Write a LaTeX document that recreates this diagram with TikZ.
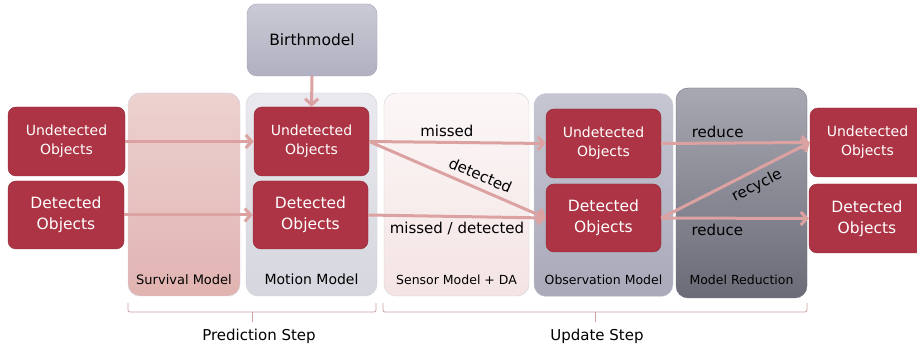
\documentclass[tikz,border=0pt]{standalone}
\usepackage{fontspec}
\setmainfont{DejaVu Sans}
\usetikzlibrary{arrows.meta}

\definecolor{objred}{HTML}{AD3444}
\definecolor{objline}{HTML}{8E2A37}
\definecolor{flowpink}{HTML}{DCA2A2}
\definecolor{bracepink}{HTML}{CFA0A4}
\definecolor{panelline}{HTML}{CFCFD8}

\newcommand\smallobj{\fontsize{14}{19}\selectfont}
\newcommand\bigobj{\fontsize{15.5}{21}\selectfont}
\newcommand\panelfont{\fontsize{12.5}{15}\selectfont}

\tikzset{
  objbox/.style={draw=objline, fill=objred, rounded corners=8pt, text=white,
    align=center, inner sep=0pt, minimum width=115pt, minimum height=68pt},
  panel/.style={draw=panelline, rounded corners=12pt, inner sep=0pt,
    minimum width=#1, minimum height=203pt},
  flow/.style={draw=flowpink, line width=3pt, -{Straight Barb[length=6pt,width=13pt]}},
  flowlab/.style={font=\fontsize{15}{18}\selectfont, inner sep=4pt},
  bracket/.style={draw=bracepink, line width=0.8pt, rounded corners=2pt},
}

\begin{document}
\begin{tikzpicture}[x=1pt,y=1pt]
\useasboundingbox (0,0) rectangle (917,350);

% panels
\node[panel=112pt, top color={rgb,255:red,236;green,210;blue,208}, bottom color={rgb,255:red,225;green,179;blue,177}]
  at (184,155.5) (survival) {};
\node[panel=131pt, top color={rgb,255:red,233;green,233;blue,239}, bottom color={rgb,255:red,214;green,214;blue,222}]
  at (311.5,155.5) (motion) {};
\node[panel=145pt, top color={rgb,255:red,252;green,247;blue,247}, bottom color={rgb,255:red,244;green,228;blue,228}]
  at (456.5,155.5) (sensor) {};
\node[panel=139pt, top color={rgb,255:red,198;green,198;blue,210}, bottom color={rgb,255:red,169;green,169;blue,186}]
  at (603.5,155) (observation) {};
\node[panel=131pt, minimum height=210pt, draw={rgb,255:red,112;green,112;blue,128},
  top color={rgb,255:red,168;green,168;blue,178}, bottom color={rgb,255:red,107;green,107;blue,120}]
  at (741.5,157) (reduction) {};

\node[font=\fontsize{13}{15}\selectfont, anchor=base] at ([yshift=12pt]survival.south) {Survival Model};
\node[font=\fontsize{14}{16}\selectfont, anchor=base] at ([yshift=12pt]motion.south) {Motion Model};
\node[font=\panelfont, anchor=base] at ([yshift=12pt]sensor.south) {Sensor Model + DA};
\node[font=\panelfont, anchor=base] at ([yshift=12pt]observation.south) {Observation Model};
\node[font=\panelfont, anchor=base] at ([yshift=14pt]reduction.south) {Model Reduction};

\node[panel=130pt, minimum height=72pt, rounded corners=10pt, draw={rgb,255:red,160;green,160;blue,176},
  top color={rgb,255:red,202;green,202;blue,214}, bottom color={rgb,255:red,176;green,176;blue,192},
  font=\fontsize{15.5}{18}\selectfont] at (312,310) (birth) {Birthmodel};

% object boxes
\node[objbox, minimum width=117pt, minimum height=69pt, font=\smallobj] at (66.5,208.5) (inundet) {Undetected\\Objects};
\node[objbox, minimum width=116pt, font=\bigobj] at (66,135) (indet) {Detected\\Objects};
\node[objbox, minimum height=69pt, font=\smallobj] at (311.5,208.5) (predundet) {Undetected\\Objects};
\node[objbox, font=\bigobj] at (310.5,135) (preddet) {Detected\\Objects};
\node[objbox, minimum height=69pt, font=\smallobj] at (603.5,206.5) (updundet) {Undetected\\Objects};
\node[objbox, font=\bigobj] at (603.5,132) (upddet) {Detected\\Objects};
\node[objbox, minimum height=69pt, font=\smallobj] at (867.5,207.5) (outundet) {Undetected\\Objects};
\node[objbox, minimum width=116pt, minimum height=69pt, font=\bigobj] at (867,131.5) (outdet) {Detected\\Objects};

% flows
\draw[flow] (inundet.east) -- (predundet.west);
\draw[flow] (indet.east) -- (preddet.west);
\draw[flow] (birth.south) -- (predundet.north);
\draw[flow] (predundet.east) -- node[flowlab, pos=0.44, above] {missed} (updundet.west);
\draw[flow] (predundet.east) -- node[flowlab, pos=0.6, sloped, above, inner sep=6pt] {detected} (upddet.west);
\draw[flow] (preddet.east) -- node[flowlab, pos=0.5, below] {missed / detected} (upddet.west);
\draw[flow] (updundet.east) -- node[flowlab, pos=0.38, above] {reduce} (outundet.west);
\draw[flow] (upddet.east) -- node[flowlab, pos=0.38, below] {reduce} (outdet.west);
\draw[flow] (upddet.east) -- node[flowlab, pos=0.6, sloped, below, inner sep=6pt] {recycle} (outundet.west);

% steps
\draw[bracket] (128,47) -- (128,38) -- (376,38) -- (376,47);
\draw[bracket] (252,38) -- (252,28);
\node[font=\fontsize{15}{18}\selectfont] at (259,14) (predstep) {Prediction Step};
\draw[bracket] (383,47) -- (383,38) -- (807,38) -- (807,47);
\draw[bracket] (595,38) -- (595,28);
\node[font=\fontsize{15}{18}\selectfont] at (597,14) (updstep) {Update Step};
\end{tikzpicture}
\end{document}
